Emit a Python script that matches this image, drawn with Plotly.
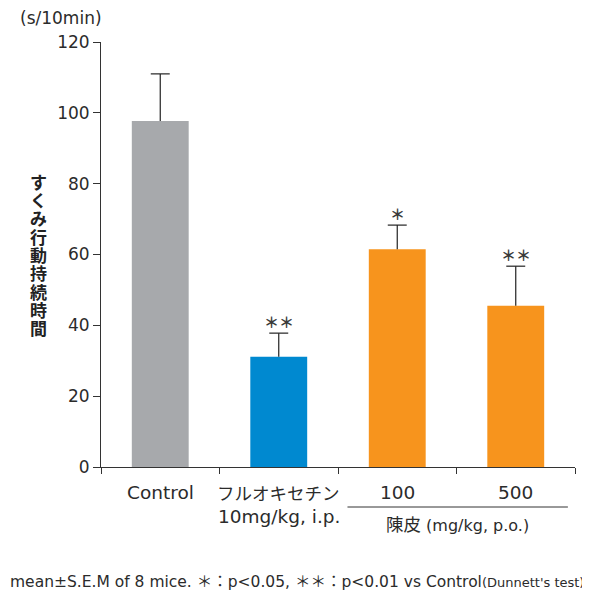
import plotly.graph_objects as go

categories = ["Control", "フルオキセチン", "100", "500"]
sub_labels = ["", "10mg/kg, i.p.", "", ""]
values = [97.7, 31.1, 61.5, 45.5]
sem = [13.3, 6.7, 6.8, 11.2]
signif = ["", "**", "*", "**"]
colors = ["#A7A9AC", "#0089D0", "#F7941D", "#F7941D"]
y_ticks = [0, 20, 40, 60, 80, 100, 120]

FONT = "DejaVu Sans, Noto Sans CJK JP, sans-serif"
JFONT = "Noto Sans CJK JP, sans-serif"
TXT = "#2b2b2b"
xs = list(range(len(categories)))

# page body has an 8px margin; compensate
OFF = 8
W, H = 590 - OFF, 590 - OFF
ML, MR, MT, MB = 101 - OFF, 15, 42 - OFF, 123
plot_h = H - MT - MB

fig = go.Figure()
fig.add_trace(go.Bar(
    x=xs, y=values, width=0.48,
    marker=dict(color=colors, line=dict(width=0)),
    showlegend=False, hoverinfo="skip",
))

# upper-only error bars
cap = 0.08
ex, ey = [], []
for i, (v, s) in enumerate(zip(values, sem)):
    ex += [i, i, None, i - cap, i + cap, None]
    ey += [v, v + s, None, v + s, v + s, None]
fig.add_trace(go.Scatter(x=ex, y=ey, mode="lines", line=dict(color="#222222", width=1.2),
                         showlegend=False, hoverinfo="skip"))


def jp(t, size):
    return "<span style='font-family:Noto Sans CJK JP;font-size:%spx'>%s</span>" % (size, t)


annotations = []
for i, c in enumerate(categories):
    txt = c if c.isascii() else jp(c, 17.5)
    annotations.append(dict(x=i, y=0, xref="x", yref="y", text=txt, showarrow=False,
                            yanchor="middle", yshift=-25, font=dict(size=18.5, color=TXT, family=FONT)))
    if sub_labels[i]:
        annotations.append(dict(x=i, y=0, xref="x", yref="y", text=sub_labels[i], showarrow=False,
                                yanchor="middle", yshift=-49, font=dict(size=18.5, color=TXT, family=FONT)))
    if signif[i]:
        annotations.append(dict(x=i, y=values[i] + sem[i], xref="x", yref="y",
                                text="<b>" + signif[i].replace("*", "＊") + "</b>", showarrow=False,
                                yanchor="middle", yshift=12,
                                font=dict(size=15, color="#3a3a3a", family=JFONT)))

# group label for 陳皮
annotations.append(dict(x=2.51, y=0, xref="x", yref="y",
                        text=jp("陳皮", 17.5) + " (mg/kg, p.o.)",
                        showarrow=False, yanchor="middle", yshift=-56,
                        font=dict(size=16, color=TXT, family=FONT)))
# y-axis unit
annotations.append(dict(x=0, y=1, xref="paper", yref="paper", xanchor="right", yanchor="middle",
                        text="(s/10min)", showarrow=False, xshift=3, yshift=24,
                        font=dict(size=17, color=TXT, family=FONT)))
# vertical y title, one character per annotation
ytitle = "すくみ行動持続時間"
pitch = 18.3
n = len(ytitle)
for k, ch in enumerate(ytitle):
    annotations.append(dict(x=0, y=0.5, xref="paper", yref="paper", xanchor="center", yanchor="middle",
                            text="<b>" + ch + "</b>", showarrow=False, xshift=-63,
                            yshift=-(k - (n - 1) / 2) * pitch,
                            font=dict(size=17, color="#222222", family=JFONT)))
# footnote
annotations.append(dict(x=0, y=0, xref="paper", yref="paper", xanchor="left", yanchor="middle",
                        text="mean±S.E.M of 8 mice. " + jp("＊：", 15.5) + "p<0.05, "
                             + jp("＊＊：", 15.5) + "p<0.01 vs Control"
                             "<span style='font-size:13px'>(Dunnett's test)</span>",
                        showarrow=False, xshift=-(101 - 8), yshift=-113,
                        font=dict(size=15.5, color=TXT, family=FONT)))

fig.update_layout(
    width=W, height=H,
    margin=dict(l=ML, r=MR, t=MT, b=MB),
    paper_bgcolor="white", plot_bgcolor="white",
    annotations=annotations,
    xaxis=dict(range=[-0.5, 3.5], tickvals=[-0.5, 0.5, 1.5, 2.5, 3.5], ticktext=[""] * 5,
               ticks="outside", ticklen=6, tickcolor="#333333", showline=True,
               linecolor="#333333", linewidth=1, showgrid=False, zeroline=False, fixedrange=True),
    yaxis=dict(range=[0, 120], tickvals=y_ticks, ticks="outside", ticklen=7,
               tickcolor="#333333", showline=True, linecolor="#333333", linewidth=1,
               showgrid=False, zeroline=False, tickfont=dict(size=17, color=TXT, family=FONT)),
)

# horizontal bracket line under 100/500 group
fig.add_shape(type="line", xref="x", yref="paper", x0=1.58, x1=3.44,
              y0=-40 / plot_h, y1=-40 / plot_h, line=dict(color="#333333", width=1))

fig.write_html("out.html")
